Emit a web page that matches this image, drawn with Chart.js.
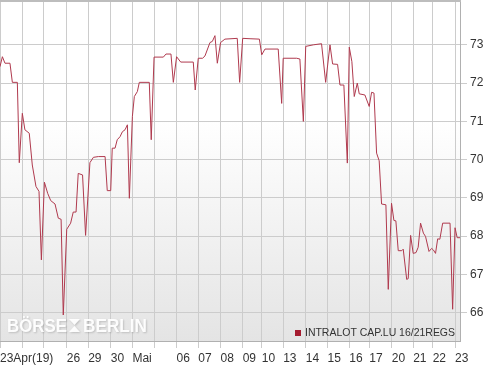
<!DOCTYPE html>
<html>
<head>
<meta charset="utf-8">
<script src="https://cdn.jsdelivr.net/npm/chart.js@4/dist/chart.umd.min.js"></script>
<style>
body { margin: 0; background: #fff; }
</style>
</head>
<body>
<canvas id="mycanvas" width="499" height="371"></canvas>
<script>
// trading days (23 Apr 2019 - 23 May 2019), position of each day start on the time axis
var dayLabels = ["23Apr(19)", "", "", "26", "29", "30", "Mai", "", "06", "07", "08", "09", "10", "13", "14", "15", "16", "17", "20", "21", "22", "23"];
var dayStart = [0, 1.02, 2.03, 3.08, 4.07, 5.11, 6.11, 7.12, 8.15, 9.15, 10.18, 11.2, 12.08, 13.07, 14.11, 15.12, 16.12, 17.04, 18.08, 19.07, 19.97, 21.0];
var yTicks = [66, 67, 68, 69, 70, 71, 72, 73];

// time in trading days since 23 Apr
var times = [0, 0.11, 0.23, 0.46, 0.57, 0.80, 0.89, 1.03, 1.15, 1.35,
	1.49, 1.66, 1.80, 1.91, 2.05, 2.20, 2.34, 2.54, 2.69, 2.82,
	2.92, 3.08, 3.26, 3.38, 3.51, 3.61, 3.81, 3.95, 4.15, 4.31,
	4.54, 4.85, 4.95, 5.11, 5.18, 5.31, 5.41, 5.54, 5.65, 5.77,
	5.88, 5.97, 6.11, 6.20, 6.34, 6.43, 6.89, 6.98, 7.11, 7.54,
	7.66, 7.89, 8.00, 8.15, 8.34, 8.92, 9.01, 9.15, 9.35, 9.46,
	9.69, 9.80, 9.92, 10.03, 10.18, 10.38, 10.95, 11.06, 11.20, 11.54,
	11.97, 12.08, 12.23, 12.84, 13.00, 13.07, 13.69, 13.84, 14.00, 14.11,
	14.46, 14.84, 15.03, 15.23, 15.35, 15.58, 15.69, 15.87, 16.03, 16.12,
	16.24, 16.35, 16.49, 16.58, 16.84, 17.04, 17.15, 17.26, 17.38, 17.50,
	17.61, 17.81, 17.92, 18.07, 18.18, 18.27, 18.38, 18.54, 18.61, 18.77,
	18.84, 18.95, 19.07, 19.20, 19.30, 19.41, 19.54, 19.64, 19.80, 19.92,
	20.00, 20.10, 20.20, 20.30, 20.43, 20.77, 20.89, 21.00, 21.10, 21.23];

var prices = [72.43, 72.69, 72.52, 72.52, 72.02, 72.02, 69.92, 71.21, 70.78, 70.69,
	69.86, 69.30, 69.17, 67.38, 69.41, 69.12, 68.93, 68.84, 68.47, 68.44,
	65.94, 68.18, 68.34, 68.63, 68.63, 69.64, 69.60, 68.02, 69.92, 70.06,
	70.08, 70.08, 69.19, 69.19, 70.30, 70.30, 70.52, 70.60, 70.73, 70.78,
	70.91, 68.99, 71.13, 71.65, 71.78, 72.02, 72.02, 70.52, 72.68, 72.68,
	72.76, 72.76, 72.02, 72.69, 72.55, 72.55, 71.82, 72.65, 72.65, 72.71,
	73.06, 73.09, 73.24, 72.52, 73.06, 73.15, 73.17, 72.02, 73.17, 73.16,
	73.15, 72.74, 72.89, 72.89, 71.47, 72.65, 72.65, 72.63, 71.00, 72.96,
	73.00, 73.03, 72.02, 73.00, 72.50, 72.49, 71.95, 71.95, 69.91, 72.94,
	72.56, 71.65, 72.00, 71.72, 71.69, 71.39, 71.76, 71.74, 70.17, 69.97,
	68.84, 68.82, 66.61, 68.86, 68.41, 68.40, 67.62, 67.62, 67.66, 66.87,
	66.89, 68.02, 67.55, 67.57, 67.71, 68.34, 68.08, 67.99, 67.60, 67.68,
	67.64, 67.55, 67.93, 67.92, 68.34, 68.34, 66.09, 68.22, 67.96, 67.96];

var seriesName = "INTRALOT CAP.LU 16/21REGS";

var points = [];
for (var i in prices) {
	points.push({x: times[i], y: prices[i]});
}

var fontFamily = "'Liberation Sans', Arial, sans-serif";

// gradient background, top border, watermark and legend
var decoPlugin = {
	id: 'deco',
	beforeDraw: function(chart) {
		var ctx = chart.ctx;
		var a = chart.chartArea;
		ctx.save();
		var g = ctx.createLinearGradient(0, a.top, 0, a.bottom);
		g.addColorStop(0, '#ffffff');
		g.addColorStop(0.35, '#ffffff');
		g.addColorStop(1, '#e4e4e4');
		ctx.fillStyle = g;
		ctx.fillRect(a.left, a.top, a.right - a.left, a.bottom - a.top);
		ctx.restore();
	},
	beforeDatasetsDraw: function(chart) {
		var ctx = chart.ctx;
		var a = chart.chartArea;
		ctx.save();
		// top border
		ctx.fillStyle = '#bdbdbd';
		ctx.fillRect(a.left, 0, a.right - a.left + 1, 2);

		// watermark
		ctx.font = "bold 19px " + fontFamily;
		ctx.textBaseline = 'alphabetic';
		ctx.shadowColor = 'rgba(0,0,0,0.18)';
		ctx.shadowBlur = 2;
		ctx.shadowOffsetX = 1;
		ctx.shadowOffsetY = 1;
		ctx.fillStyle = 'rgba(255,255,255,0.95)';
		var base = a.bottom - 9;
		var w1 = ctx.measureText("BÖRSE").width;
		ctx.save();
		ctx.translate(a.left + 7, base);
		ctx.scale(60 / w1, 1);
		ctx.fillText("BÖRSE", 0, 0);
		ctx.restore();
		var w2 = ctx.measureText("BERLIN").width;
		ctx.save();
		ctx.translate(a.left + 83, base);
		ctx.scale(64 / w2, 1);
		ctx.fillText("BERLIN", 0, 0);
		ctx.restore();
		// hourglass mark between words
		var hx = a.left + 69, top = base - 13;
		ctx.beginPath();
		ctx.moveTo(hx, top);
		ctx.lineTo(hx + 11, top);
		ctx.lineTo(hx + 5.5, top + 6);
		ctx.closePath();
		ctx.moveTo(hx, top + 13);
		ctx.lineTo(hx + 11, top + 13);
		ctx.lineTo(hx + 5.5, top + 7);
		ctx.closePath();
		ctx.fill();
		ctx.restore();
	},
	afterDatasetsDraw: function(chart) {
		var ctx = chart.ctx;
		var a = chart.chartArea;
		ctx.save();
		var ty = a.bottom - 8;
		ctx.fillStyle = '#a51c30';
		ctx.fillRect(a.right - 165, ty - 3, 6, 6);
		ctx.font = "10.5px " + fontFamily;
		ctx.fillStyle = '#333';
		ctx.textBaseline = 'middle';
		var tw = ctx.measureText(seriesName).width;
		ctx.translate(a.right - 155, ty);
		ctx.scale(150 / tw, 1);
		ctx.fillText(seriesName, 0, 0);
		ctx.restore();
	}
};

var ctx = document.getElementById("mycanvas");

var LineGraph = new Chart(ctx, {
	type: 'line',
	data: {
		datasets: [{
			label: seriesName,
			data: points,
			fill: false,
			borderColor: '#b03a4e',
			borderWidth: 1,
			pointRadius: 0,
			tension: 0
		}]
	},
	options: {
		responsive: false,
		animation: false,
		layout: { padding: { top: 2, left: 0, right: 0, bottom: 0 } },
		plugins: {
			legend: { display: false },
			tooltip: { enabled: false }
		},
		scales: {
			x: {
				type: 'linear',
				min: 0,
				max: 21.23,
				afterBuildTicks: function(scale) {
					scale.ticks = dayStart.map(function(v) { return {value: v}; });
				},
				afterFit: function(scale) {
					scale.height = 30;
					scale.paddingLeft = 0;
					scale.paddingRight = 0;
				},
				ticks: {
					align: 'start',
					autoSkip: false,
					maxRotation: 0,
					minRotation: 0,
					padding: 3,
					color: '#333',
					font: { family: fontFamily, size: 12 },
					callback: function(value, index) { return dayLabels[index]; }
				},
				grid: { color: '#cccccc', tickColor: '#cccccc', tickLength: 7 },
				border: { color: '#b0b0b0' }
			},
			y: {
				position: 'right',
				min: 65.26,
				max: 74.12,
				afterBuildTicks: function(scale) {
					scale.ticks = yTicks.map(function(v) { return {value: v}; });
				},
				afterFit: function(scale) {
					scale.width = 39;
					scale.paddingTop = 0;
					scale.paddingBottom = 0;
				},
				ticks: {
					padding: 3,
					color: '#333',
					font: { family: fontFamily, size: 12 }
				},
				grid: { color: '#cccccc', tickColor: '#cccccc', tickLength: 7 },
				border: { color: '#b0b0b0' }
			}
		}
	},
	plugins: [decoPlugin]
});
</script>
</body>
</html>
